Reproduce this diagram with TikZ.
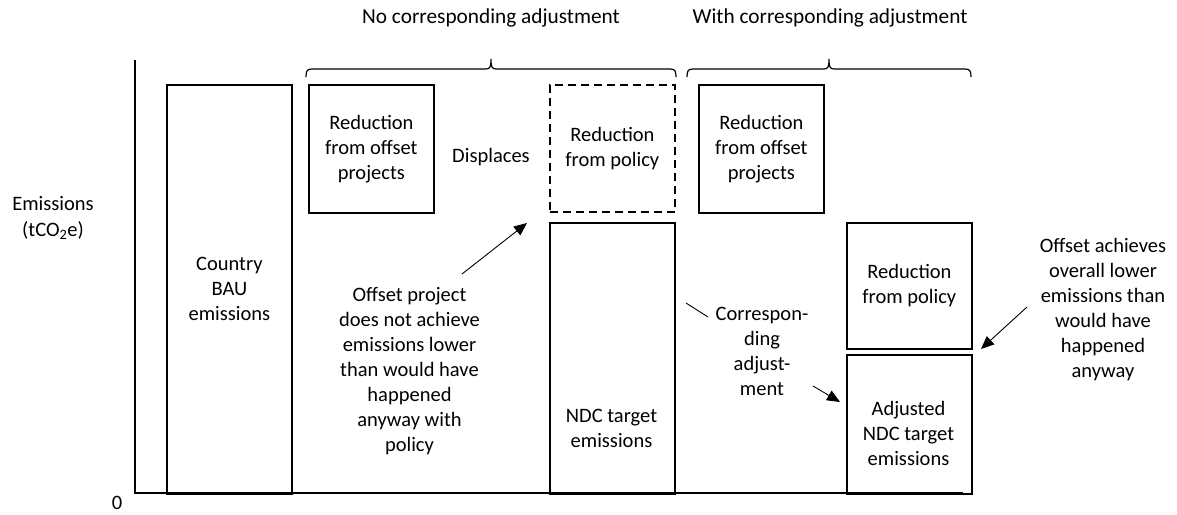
\documentclass[tikz,border=0pt]{standalone}
\usepackage{fontspec}
\setmainfont{Carlito}
\usetikzlibrary{arrows.meta}
\begin{document}
\begin{tikzpicture}[x=1pt,y=-1pt,
  every node/.style={font=\fontsize{20.5}{25}\selectfont, align=center, inner sep=0pt},
  toplab/.style={font=\fontsize{21.3}{25}\selectfont},
  bar/.style={draw, line width=1.8pt, anchor=north west},
  dashbar/.style={bar, dash pattern=on 8pt off 5pt},
  axisline/.style={line width=1.3pt},
  bracel/.style={line width=1.2pt},
  ptr/.style={line width=0.9pt, -{Triangle[length=13pt,width=11pt]}},
  plainln/.style={line width=0.9pt}]
\useasboundingbox (0,0) rectangle (1177,514);
% axes
\coordinate (ytop) at (135,60);
\coordinate (orig) at (135,493);
\coordinate (xend) at (963,493);
\draw[axisline] (ytop) -- (orig) -- (xend);
\node (zero) at (117,503) {0};
\node (ylab) at (53,218) {Emissions\\(tCO\textsubscript{2}e)};
% bars
\node[bar, minimum width=125pt, minimum height=409pt] (bau) at (166,84) {};
\node (baut) at (bau.center) {Country\\BAU\\emissions};
\node[bar, minimum width=125pt, minimum height=128pt] (off1) at (308,84) {};
\node (off1t) at (off1.center) {Reduction\\from offset\\projects};
\node[dashbar, minimum width=125pt, minimum height=127pt] (pol1) at (549,84) {};
\node (pol1t) at (pol1.center) {Reduction\\from policy};
\node[bar, minimum width=125pt, minimum height=271pt] (ndc) at (549,222) {};
\node (ndct) at (611.5,428) {NDC target\\emissions};
\node[bar, minimum width=125pt, minimum height=128pt] (off2) at (698,84) {};
\node (off2t) at (off2.center) {Reduction\\from offset\\projects};
\node[bar, minimum width=125pt, minimum height=126pt] (pol2) at (846,222) {};
\node (pol2t) at (pol2.center) {Reduction\\from policy};
\node[bar, minimum width=125pt, minimum height=139pt] (adj) at (846,354) {};
\node (adjt) at (908.5,433) {Adjusted\\NDC target\\emissions};
% labels
\node (displ) at (491,157) {Displaces};
\node (offp) at (409.5,371) {Offset project\\does not achieve\\emissions lower\\than would have\\happened\\anyway with\\policy};
\node (corr) at (762,351) {Correspon-\\ding\\adjust-\\ment};
\node (offa) at (1103,309.5) {Offset achieves\\overall lower\\emissions than\\would have\\happened\\anyway};
\node[toplab] (nca) at (491,18) {No corresponding adjustment};
\node[toplab] (wca) at (830,18) {With corresponding adjustment};
% braces
\draw[bracel] (306,77) .. controls (306,71) and (307,69) .. (312,69) -- (486,69)
  .. controls (490,69) and (491,67) .. (491,59)
  .. controls (491,67) and (492,69) .. (496,69) -- (670,69)
  .. controls (675,69) and (676,71) .. (676,77);
\draw[bracel] (687,77) .. controls (687,71) and (688,69) .. (693,69) -- (824,69)
  .. controls (828,69) and (829,67) .. (829,59)
  .. controls (829,67) and (830,69) .. (834,69) -- (965,69)
  .. controls (970,69) and (971,71) .. (971,77);
% pointers
\coordinate (a1s) at (462,274);
\coordinate (a1e) at (527,223);
\draw[ptr] (a1s) -- (a1e);
\coordinate (c1s) at (686,303);
\coordinate (c1e) at (708,317);
\draw[plainln] (c1s) -- (c1e);
\coordinate (a2s) at (813,386);
\coordinate (a2e) at (840,402);
\draw[ptr] (a2s) -- (a2e);
\coordinate (a3s) at (1027,307);
\coordinate (a3e) at (981,349);
\draw[ptr] (a3s) -- (a3e);
\end{tikzpicture}
\end{document}
